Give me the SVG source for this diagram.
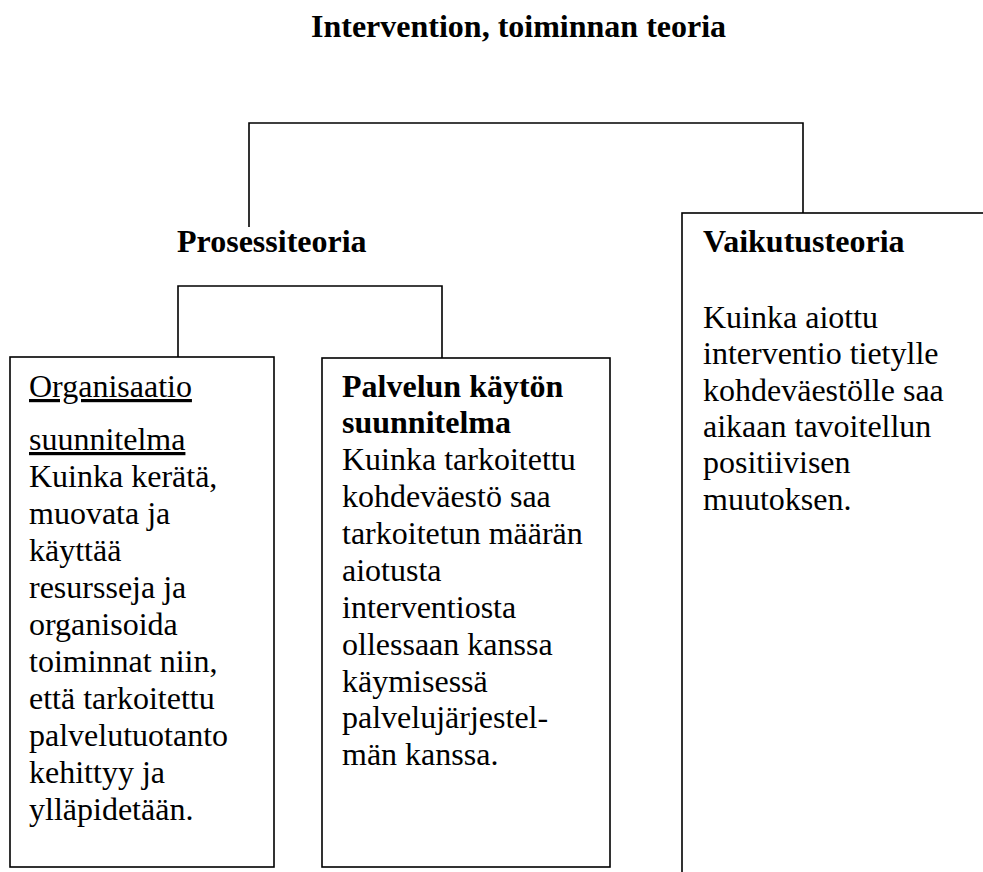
<svg xmlns="http://www.w3.org/2000/svg" width="983" height="872" viewBox="0 0 983 872">
  <style>
    .bg { fill: #ffffff; }
    .box { fill: none; stroke: #000000; stroke-width: 1.6; }
    .wire { fill: none; stroke: #000000; stroke-width: 1.6; }
    .t { font-family: 'Liberation Serif', Tinos, 'Times New Roman', 'DejaVu Serif', serif; font-size: 32px; fill: #000000; }
    .b { font-weight: bold; }
    .u { text-decoration: underline; }
  </style>
  <rect class="bg" x="0" y="0" width="983" height="872"/>

  <g class="t" font-family="Liberation Serif, Tinos, Times New Roman, DejaVu Serif, serif">
    <!-- title -->
    <text id="title" class="b" x="311" y="37">Intervention, toiminnan teoria</text>

    <!-- connectors -->
    <g id="connectors">
      <path class="wire" d="M249,227 V123 H803 V213"/>
      <path class="wire" d="M178,357 V286 H442 V358"/>
    </g>

    <!-- process theory label -->
    <g id="prosessiteoria">
      <text class="b" x="177" y="252">Prosessiteoria</text>
    </g>

    <!-- organisation plan -->
    <g id="organisaatiosuunnitelma">
      <rect class="box" x="10" y="357" width="264" height="510"/>
      <text x="29">
        <tspan class="u" x="29" y="397">Organisaatio</tspan>
        <tspan class="u" x="29" y="450">suunnitelma</tspan>
        <tspan x="29" y="487">Kuinka kerätä,</tspan>
        <tspan x="29" y="524">muovata ja</tspan>
        <tspan x="29" y="561">käyttää</tspan>
        <tspan x="29" y="598">resursseja ja</tspan>
        <tspan x="29" y="635">organisoida</tspan>
        <tspan x="29" y="672">toiminnat niin,</tspan>
        <tspan x="29" y="709">että tarkoitettu</tspan>
        <tspan x="29" y="746">palvelutuotanto</tspan>
        <tspan x="29" y="783">kehittyy ja</tspan>
        <tspan x="29" y="820">ylläpidetään.</tspan>
      </text>
    </g>

    <!-- service utilisation plan -->
    <g id="palvelunkayttosuunnitelma">
      <rect class="box" x="322" y="358" width="288" height="509"/>
      <text x="342">
        <tspan class="b" x="342" y="397">Palvelun käytön</tspan>
        <tspan class="b" x="342" y="433">suunnitelma</tspan>
        <tspan x="342" y="470">Kuinka tarkoitettu</tspan>
        <tspan x="342" y="507">kohdeväestö saa</tspan>
        <tspan x="342" y="544">tarkoitetun määrän</tspan>
        <tspan x="342" y="581">aiotusta</tspan>
        <tspan x="342" y="618">interventiosta</tspan>
        <tspan x="342" y="655">ollessaan kanssa</tspan>
        <tspan x="342" y="692">käymisessä</tspan>
        <tspan x="342" y="728">palvelujärjestel-</tspan>
        <tspan x="342" y="765">män kanssa.</tspan>
      </text>
    </g>

    <!-- impact theory -->
    <g id="vaikutusteoria">
      <rect class="box" x="682" y="213" width="400" height="700"/>
      <text x="703">
        <tspan class="b" x="703" y="252">Vaikutusteoria</tspan>
        <tspan x="703" y="328">Kuinka aiottu</tspan>
        <tspan x="703" y="364">interventio tietylle</tspan>
        <tspan x="703" y="401">kohdeväestölle saa</tspan>
        <tspan x="703" y="437">aikaan tavoitellun</tspan>
        <tspan x="703" y="473">positiivisen</tspan>
        <tspan x="703" y="510">muutoksen.</tspan>
      </text>
    </g>
  </g>
</svg>
